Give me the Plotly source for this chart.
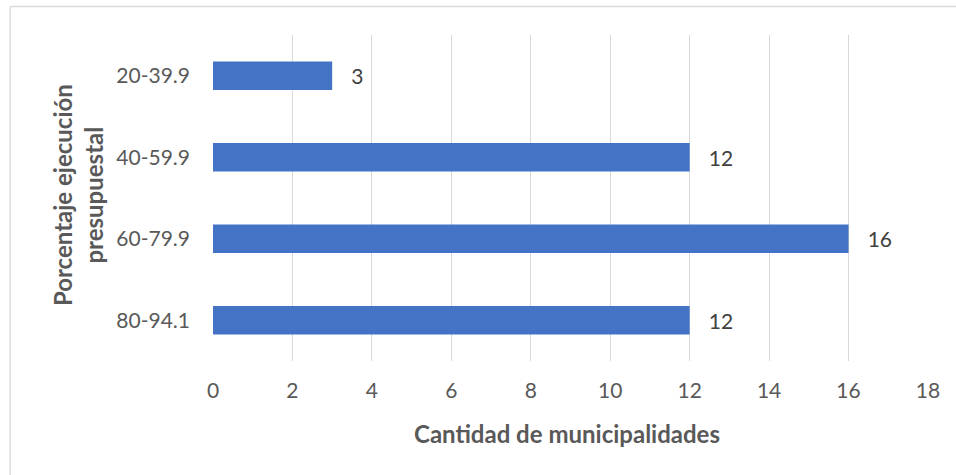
import plotly.graph_objects as go

categories = ["80-94.1", "60-79.9", "40-59.9", "20-39.9"]
values = [12, 16, 12, 3]
x_ticks = [0, 2, 4, 6, 8, 10, 12, 14, 16, 18]
x_title = "Cantidad de municipalidades"
y_title = "Porcentaje ejecución<br>presupuestal"

FONT = "Lato"
W, H = 956, 475
L, R, T, B = 212.5, 28, 35, 114
PW, PH = W - L - R, H - T - B

fig = go.Figure(go.Bar(
    x=values, y=categories, orientation="h",
    marker=dict(color="#4472C4", line=dict(width=0)),
    text=["\u00a0\u00a0\u00a0" + str(v) for v in values], textposition="outside",
    textfont=dict(family=FONT, size=21, color="#404040"),
    cliponaxis=False, width=0.35, hoverinfo="skip",
))

fig.update_layout(
    width=W, height=H,
    margin=dict(l=L, r=R, t=T, b=B, pad=0),
    paper_bgcolor="white", plot_bgcolor="white",
    showlegend=False,
    font=dict(family=FONT, size=21, color="#595959"),
    xaxis=dict(range=[0, 18], tickvals=x_ticks, showgrid=True, gridcolor="#D9D9D9",
               gridwidth=1.3, zeroline=False, showline=False, ticks="",
               tickfont=dict(size=21, color="#595959"), ticklabelstandoff=15),
    yaxis=dict(categoryorder="array", categoryarray=categories, showgrid=False,
               zeroline=False, showline=False, ticks="",
               tickfont=dict(size=21, color="#595959"), ticklabelstandoff=22),
)

fig.add_annotation(text="<b>" + x_title + "</b>", xref="paper", yref="paper",
                   x=(566.5 - L) / PW, y=-(433 - (H - B)) / PH,
                   showarrow=False, font=dict(size=24, color="#595959"),
                   xanchor="center", yanchor="middle")
fig.add_annotation(text="<b>" + y_title + "</b>", xref="paper", yref="paper",
                   x=-(L - 77) / PW, y=(H - B - 195.5) / PH,
                   showarrow=False, textangle=-90, font=dict(size=24, color="#595959"),
                   xanchor="center", yanchor="middle")

# chart border (top and left edges visible)
fig.add_shape(type="line", xref="paper", yref="paper",
              x0=-(L - 9.5) / PW, x1=(W - L) / PW,
              y0=(H - B - 6.5) / PH, y1=(H - B - 6.5) / PH,
              line=dict(color="#D9D9D9", width=1.3))
fig.add_shape(type="line", xref="paper", yref="paper",
              x0=-(L - 9.5) / PW, x1=-(L - 9.5) / PW,
              y0=(H - B - 6.5) / PH, y1=-B / PH,
              line=dict(color="#D9D9D9", width=1.3))

fig.write_html("out.html", config={"displayModeBar": False},
               post_script="document.body.style.margin='0';document.body.style.padding='0';")
